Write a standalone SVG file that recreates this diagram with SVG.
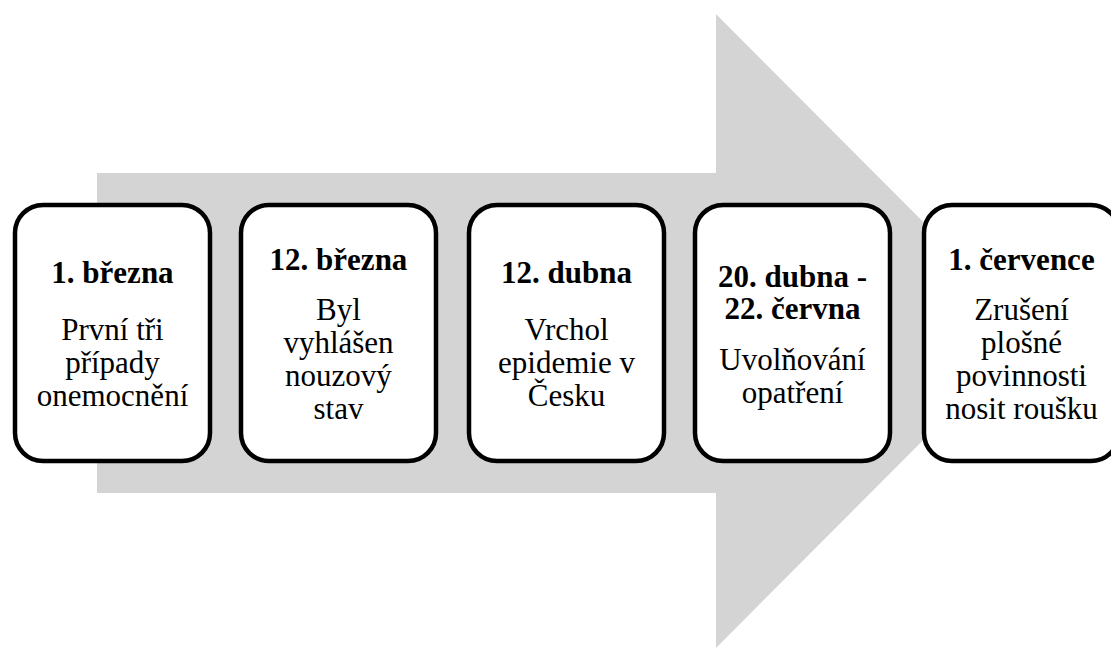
<svg xmlns="http://www.w3.org/2000/svg" width="1111" height="648" viewBox="0 0 1111 648">
  <style>
    .card { fill: #ffffff; stroke: #000000; stroke-width: 4.5; }
    .title { font-family: "Liberation Serif", "Times New Roman", Tinos, serif; font-size: 31px; font-weight: bold; fill: #000000; text-anchor: middle; }
    .body { font-family: "Liberation Serif", "Times New Roman", Tinos, serif; font-size: 31px; fill: #000000; text-anchor: middle; }
  </style>
  <rect width="1111" height="648" fill="#ffffff"/>

  <!-- timeline arrow behind the cards -->
  <g id="connectors">
    <polygon points="97,173 716,173 716,14 1032,331 716,648 716,493 97,493" fill="#d4d4d4"/>
  </g>

  <g id="card-1">
    <rect class="card" x="15" y="205" width="195" height="256" rx="28" ry="28"/>
    <text class="title" x="112.5" y="283">1. března</text>
    <text class="body" x="112.5" y="340">První tři</text>
    <text class="body" x="112.5" y="373">případy</text>
    <text class="body" x="112.5" y="406">onemocnění</text>
  </g>

  <g id="card-2">
    <rect class="card" x="241" y="205" width="195" height="256" rx="28" ry="28"/>
    <text class="title" x="338.5" y="270">12. března</text>
    <text class="body" x="338.5" y="320">Byl</text>
    <text class="body" x="338.5" y="353">vyhlášen</text>
    <text class="body" x="338.5" y="386">nouzový</text>
    <text class="body" x="338.5" y="419">stav</text>
  </g>

  <g id="card-3">
    <rect class="card" x="469" y="205" width="195" height="256" rx="28" ry="28"/>
    <text class="title" x="566.5" y="283">12. dubna</text>
    <text class="body" x="566.5" y="340">Vrchol</text>
    <text class="body" x="566.5" y="373">epidemie v</text>
    <text class="body" x="566.5" y="406">Česku</text>
  </g>

  <g id="card-4">
    <rect class="card" x="695" y="205" width="195" height="256" rx="28" ry="28"/>
    <text class="title" x="792.5" y="287">20. dubna -</text>
    <text class="title" x="792.5" y="319">22. června</text>
    <text class="body" x="792.5" y="370">Uvolňování</text>
    <text class="body" x="792.5" y="403">opatření</text>
  </g>

  <g id="card-5">
    <rect class="card" x="924" y="205" width="195" height="256" rx="28" ry="28"/>
    <text class="title" x="1021.5" y="270">1. července</text>
    <text class="body" x="1021.5" y="320">Zrušení</text>
    <text class="body" x="1021.5" y="353">plošné</text>
    <text class="body" x="1021.5" y="386">povinnosti</text>
    <text class="body" x="1021.5" y="419">nosit roušku</text>
  </g>
</svg>
